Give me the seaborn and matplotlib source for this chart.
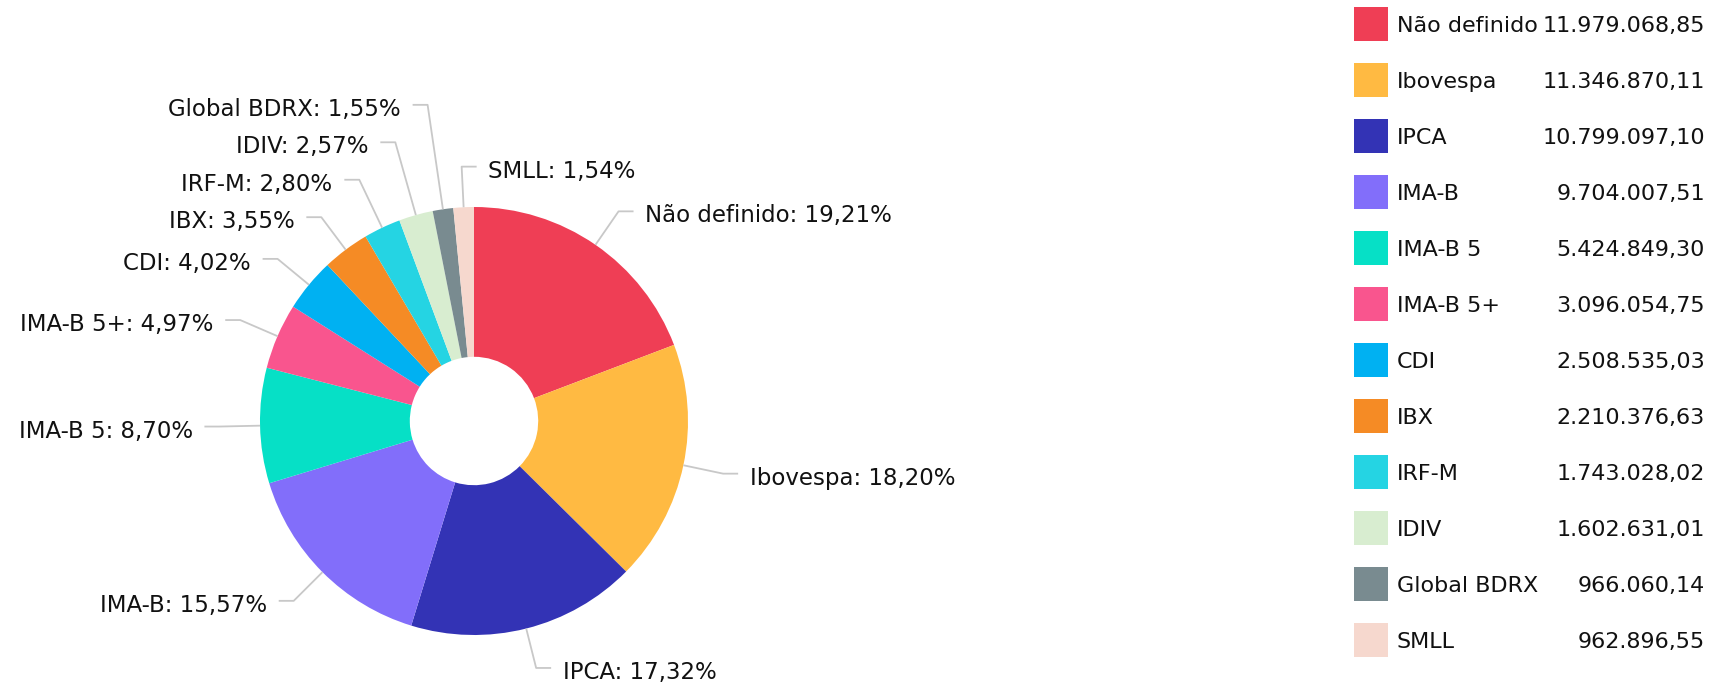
import numpy as np
import matplotlib
matplotlib.use("Agg")
import matplotlib.pyplot as plt
import seaborn as sns
from matplotlib.patches import Rectangle

categorias = ["Não definido", "Ibovespa", "IPCA", "IMA-B", "IMA-B 5", "IMA-B 5+",
              "CDI", "IBX", "IRF-M", "IDIV", "Global BDRX", "SMLL"]
valores = [11979068.85, 11346870.11, 10799097.10, 9704007.51, 5424849.30, 3096054.75,
           2508535.03, 2210376.63, 1743028.02, 1602631.01, 966060.14, 962896.55]
cores = ["#EF3E55", "#FFBA42", "#3333B5", "#826EFA", "#06E0C6", "#F9558E",
         "#00B1F2", "#F58B25", "#25D4E3", "#D8EDD0", "#798B90", "#F6D8CE"]


def br(x):
    s = f"{x:,.2f}"
    return s.replace(",", "X").replace(".", ",").replace("X", ".")


sns.set_theme(style="white")
plt.rcParams['font.family'] = ['DejaVu Sans']
paleta = sns.color_palette(cores)

W, H = 1732, 687
cx, cy, R = 474, 421, 214
fs = 16
cinza = "#C8C8C8"
texto = "#111111"

fig = plt.figure(figsize=(W / 100, H / 100), dpi=100)
ax = fig.add_axes([0, 0, 1, 1])
wedges, _ = ax.pie(valores, colors=paleta, startangle=90, counterclock=False,
                   radius=1, wedgeprops=dict(width=0.7, linewidth=0))
ax.set_xlim(-cx / R, (W - cx) / R)
ax.set_ylim(-(H - cy) / R, cy / R)
ax.set_aspect('equal')
ax.axis('off')

# rótulos com linhas de chamada
total = sum(valores)
itens = []
for w, nome, v in zip(wedges, categorias, valores):
    ang = np.deg2rad((w.theta1 + w.theta2) / 2)
    c, s = np.cos(ang), np.sin(ang)
    lado = 1 if c > -0.1 else -1
    itens.append({"nome": nome, "p": v / total * 100, "c": c, "s": s,
                  "lado": lado, "y": 1.19 * s, "empurrado": False})

esq = sorted([d for d in itens if d["lado"] < 0], key=lambda d: d["y"])
for a, b in zip(esq[:-1], esq[1:]):
    if b["y"] < a["y"] + 0.175:
        b["y"] = a["y"] + 0.175
        b["empurrado"] = True

for d in itens:
    c, s, y, lado = d["c"], d["s"], d["y"], d["lado"]
    r_e = y / s if d["empurrado"] else 1.19
    ex = c * r_e
    tx = ex + lado * 0.07
    ax.plot([c, ex, tx], [s, y, y], color=cinza, lw=1.3, solid_capstyle="butt")
    rot = f"{d['nome']}: {d['p']:.2f}%".replace(".", ",")
    ax.text(tx + lado * 0.055, y - 0.052, rot, ha="left" if lado > 0 else "right",
            va="baseline", fontsize=16.5, color=texto)

# legenda com valores
lax = fig.add_axes([0, 0, 1, 1])
lax.set_xlim(0, W)
lax.set_ylim(H, 0)
lax.axis('off')
for i, (nome, v) in enumerate(zip(categorias, valores)):
    yc = 24 + 56 * i
    lax.add_patch(Rectangle((1354, yc - 17), 34, 34, color=paleta[i], lw=0))
    lax.text(1397, yc + 8, nome, ha="left", va="baseline", fontsize=fs, color=texto)
    lax.text(1705, yc + 8, br(v), ha="right", va="baseline", fontsize=fs, color=texto)

fig.savefig("out.png", dpi=100)
